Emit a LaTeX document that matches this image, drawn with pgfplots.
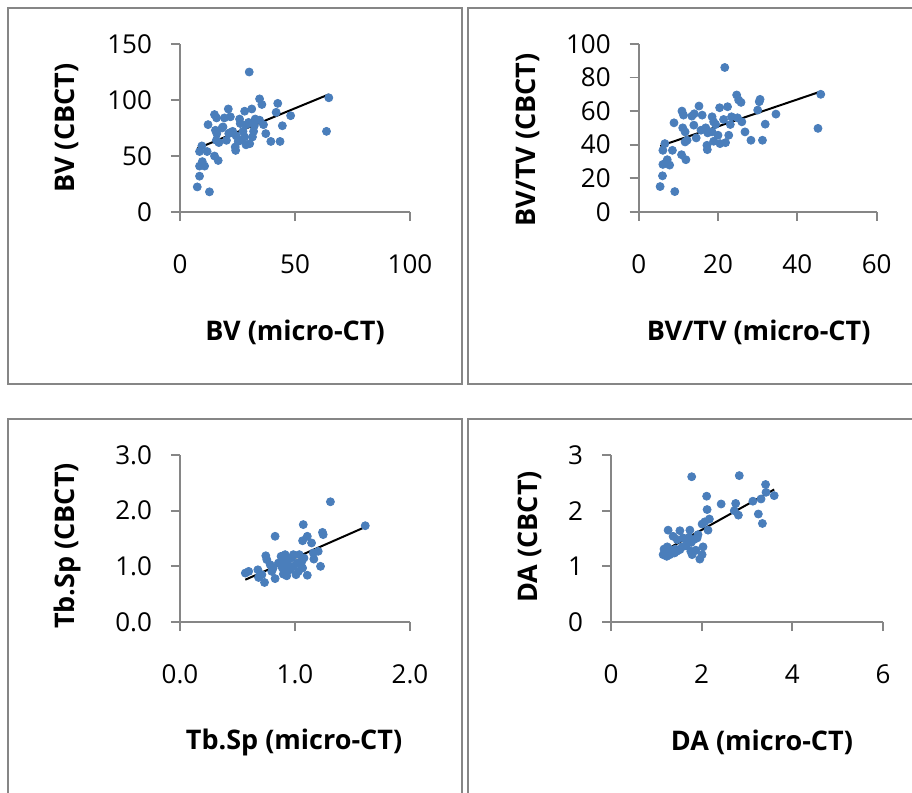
\documentclass[border=0pt]{standalone}
\usepackage{fontspec}
\setmainfont{Open Sans}
\usepackage{pgfplots}
\pgfplotsset{compat=1.18}
\definecolor{ptblue}{RGB}{74,126,187}
\definecolor{axgray}{RGB}{134,134,134}
\pgfplotsset{
  panel/.style={
    scale only axis, axis x line*=bottom, axis y line*=left,
    axis line style={axgray, line width=0.9pt},
    tick style={axgray, line width=0.9pt},
    tick align=outside, major tick length=4.5pt,
    /pgf/number format/assume math mode=true,
    tick label style={font=\fontsize{13}{15}\selectfont},
    xticklabel style={anchor=center, yshift=-21.5pt},
    yticklabel style={anchor=east, xshift=-6pt},
    label style={font=\fontsize{13.5}{15}\selectfont\bfseries},
    clip=false,
  },
  pts/.style={only marks, mark=*, mark size=2pt, mark options={draw=ptblue, fill=ptblue}},
  trend/.style={black, line width=1pt, no marks},
}
\begin{document}
\begin{tikzpicture}
\path[use as bounding box] (0,0) rectangle (456pt,-396.5pt);
\fill[white] (0,0) rectangle (456pt,-396.5pt);
% panel frames
\draw[axgray, line width=1.3pt] (4pt,-4pt) rectangle (231pt,-192pt);
\draw[axgray, line width=1.3pt] (234pt,-4pt) rectangle (462pt,-192pt);
\draw[axgray, line width=1.3pt] (4pt,-209.5pt) rectangle (231pt,-402pt);
\draw[axgray, line width=1.3pt] (234pt,-209.5pt) rectangle (462pt,-402pt);

% BV
\begin{axis}[panel, at={(90pt,-106pt)}, anchor=south west, width=115pt, height=84pt,
  xmin=0, xmax=100, ymin=0, ymax=150, xtick={0,50,100}, ytick={0,50,100,150},
  xlabel={BV (micro-CT)}, ylabel={BV (CBCT)},
  xlabel style={at={(axis description cs:0.5,-0.714)}, anchor=center},
  ylabel style={at={(axis description cs:-0.491,0.5)}, anchor=center}]
\addplot[pts] coordinates {
(7.5,22.4)(8.5,32)(12.8,18)(8.5,41)(9.7,45)(10.7,41)(11.8,54)(8.5,54)(9.5,59)
(15,50)(16.6,46)(12.2,78)(15,87)(15.9,84)(15.4,73)(16,70)(15.8,64)(16.9,62)
(18.7,76)(19.3,84)(21,92)(21.9,85)(20.2,64)(21.2,70)(22.9,72)(24,58)(24.2,55)
(25.9,83)(26.2,79)(26.2,64)(27.4,72)(28.1,67)(28.1,90)(28.7,60)(30.3,61)
(30.1,125)(29.8,80)(31.2,92)(31.5,67)(32.3,77)(32.7,83)(34.6,101)(35.6,96)
(34.6,82)(36.3,78)(37.3,70)(39.5,63)(41.8,89)(42.5,97)(43.5,63)(44.5,77)
(48.1,86)(63.7,72)(64.7,102)(18.3,75)(21.9,71)(24.4,68)(25.3,63)(28.9,78)(32,72)};
\addplot[trend] coordinates {(7.5,56.7)(64.7,105)};
\end{axis}

% BV/TV
\begin{axis}[panel, at={(319.35pt,-105.85pt)}, anchor=south west, width=119pt, height=83.85pt,
  xmin=0, xmax=60, ymin=0, ymax=100, xtick={0,20,40,60}, ytick={0,20,...,100},
  xlabel={BV/TV (micro-CT)}, ylabel={BV/TV (CBCT)},
  xlabel style={at={(axis description cs:0.504,-0.717)}, anchor=center},
  ylabel style={at={(axis description cs:-0.466,0.428)}, anchor=center}]
\addplot[pts] coordinates {
(5.4,15)(6.0,21.4)(6.1,28.2)(7.2,31)(7.8,27.8)(9.1,12)(6.1,36.6)(6.6,40.6)
(8.5,36.6)(8.9,53)(10.8,34)(11.9,31)(10.9,60)(11.3,57.6)(11.1,50)(11.7,47.6)
(12.2,42.6)(11.7,41.6)(13.4,57)(14,58.4)(15.2,63)(13.9,51.6)(14.5,44)(15.7,48.6)
(16,57.6)(16.9,50)(17.4,47)(17.2,39.6)(17.3,37)(18.5,56.6)(18.9,53.6)(19.4,52)
(18.5,47.6)(18.9,42)(20,45.6)(20.4,62)(20.5,40.6)(21.4,55)(21.7,86)(21.9,41.2)
(22.4,62.6)(22.7,45.6)(23.1,52)(23.4,56.6)(24.9,56)(24.7,69.6)(25.2,66.6)
(25.8,65.2)(26,53.6)(26.8,47.6)(28.3,42.6)(30,60.6)(30.4,65.6)(30.6,67)
(31.2,42.6)(31.9,52.2)(34.6,58.2)(45.9,70)(45.2,49.7)};
\addplot[trend] coordinates {(5.45,39.2)(45.8,71.6)};
\end{axis}

% Tb.Sp
\begin{axis}[panel, at={(90pt,-311pt)}, anchor=south west, width=115pt, height=83.5pt,
  xmin=0, xmax=2, ymin=0, ymax=3, xtick={0,1,2}, ytick={0,1,2,3},
  /pgf/number format/.cd, fixed, fixed zerofill, precision=1, /pgfplots/.cd,
  xlabel={Tb.Sp (micro-CT)}, ylabel={Tb.Sp (CBCT)},
  xlabel style={at={(axis description cs:0.496,-0.719)}, anchor=center},
  ylabel style={at={(axis description cs:-0.491,0.455)}, anchor=center}]
\addplot[pts] coordinates {
(0.568,0.879)(0.597,0.909)(0.677,0.938)(0.683,0.80)(0.712,0.85)(0.735,0.71)
(0.746,1.19)(0.755,1.12)(0.784,1.03)(0.798,0.91)(0.827,1.54)(0.827,0.78)
(0.856,1.06)(0.879,1.18)(0.89,0.97)(0.899,0.86)(0.914,1.21)(0.919,0.91)
(0.934,1.03)(0.942,1.12)(0.957,0.94)(0.971,1.15)(0.986,1.0)(1.009,0.85)
(1.02,1.06)(1.037,1.21)(1.058,1.08)(1.066,0.97)(1.066,1.46)(1.072,1.75)
(1.078,1.15)(1.107,1.54)(1.107,0.84)(1.144,1.42)(1.159,1.24)(1.164,1.13)
(1.202,1.27)(1.222,1.0)(1.239,1.61)(1.245,1.57)(1.308,2.16)(1.611,1.73)
(0.81,0.97)(0.9,1.06)(0.928,0.83)(0.986,1.21)(1.03,0.91)};
\addplot[trend] coordinates {(0.568,0.76)(1.62,1.715)};
\end{axis}

% DA
\begin{axis}[panel, at={(305.5pt,-311pt)}, anchor=south west, width=136pt, height=83.5pt,
  xmin=0, xmax=6, ymin=0, ymax=3, xtick={0,2,4,6}, ytick={0,1,2,3},
  xlabel={DA (micro-CT)}, ylabel={DA (CBCT)},
  xlabel style={at={(axis description cs:0.555,-0.719)}, anchor=center},
  ylabel style={at={(axis description cs:-0.298,0.51)}, anchor=center}]
\addplot[pts] coordinates {
(1.78,2.61)(2.83,2.63)(3.41,2.47)(3.42,2.33)(3.60,2.27)(3.31,2.21)(3.13,2.17)
(2.75,2.13)(2.43,2.12)(2.11,2.26)(2.12,2.02)(2.72,2.0)(2.81,1.92)(3.25,1.94)
(3.34,1.77)(2.17,1.85)(2.07,1.80)(2.01,1.76)(2.14,1.65)(1.92,1.57)(1.74,1.65)
(1.52,1.64)(1.26,1.65)(1.37,1.54)(1.46,1.48)(1.59,1.51)(1.72,1.52)(1.77,1.43)
(1.66,1.37)(1.57,1.35)(1.52,1.30)(1.42,1.31)(1.33,1.29)(1.24,1.35)(1.17,1.31)
(1.15,1.21)(1.23,1.18)(1.30,1.21)(1.40,1.24)(1.45,1.27)(1.76,1.27)(1.79,1.21)
(1.87,1.29)(2.03,1.35)(2.01,1.21)(1.96,1.13)(1.68,1.45)(1.83,1.48)(1.90,1.51)
(1.20,1.27)};
\addplot[trend] coordinates {(1.15,1.268)(3.60,2.38)};
\end{axis}
\end{tikzpicture}
\end{document}
